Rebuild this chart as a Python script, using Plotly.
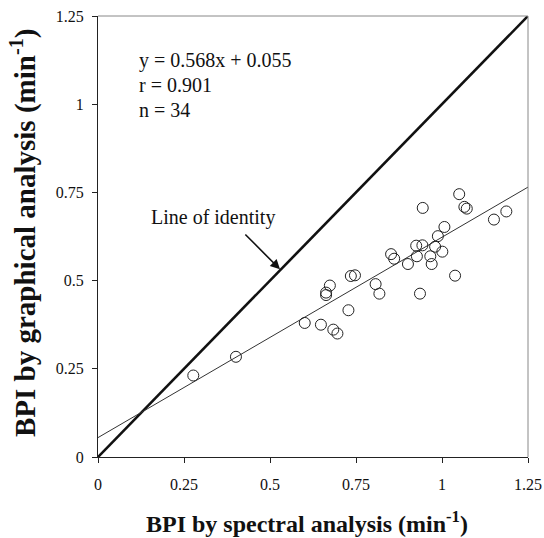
import plotly.graph_objects as go

# Measured data points (BPI by spectral vs graphical analysis)
spectral_bpi = [0.277, 0.401, 0.601, 0.648, 0.663, 0.663, 0.674, 0.684, 0.696, 0.728,
                0.735, 0.747, 0.807, 0.818, 0.852, 0.861, 0.901, 0.925, 0.927, 0.936,
                0.943, 0.944, 0.966, 0.970, 0.980, 0.988, 1.001, 1.007, 1.038, 1.050,
                1.065, 1.072, 1.151, 1.187]
graphical_bpi = [0.231, 0.284, 0.380, 0.375, 0.459, 0.466, 0.486, 0.361, 0.350, 0.416,
                 0.513, 0.515, 0.490, 0.463, 0.575, 0.562, 0.547, 0.599, 0.569, 0.463,
                 0.600, 0.706, 0.569, 0.547, 0.596, 0.626, 0.582, 0.652, 0.514, 0.745,
                 0.709, 0.704, 0.673, 0.696]

# Line of identity and regression line endpoints
identity_x = [0, 1.25]
identity_y = [0, 1.25]
fit_x = [0, 1.25]
fit_y = [0.055, 0.765]

tick_vals = [0, 0.25, 0.5, 0.75, 1, 1.25]
tick_text = ["0", "0.25", "0.5", "0.75", "1", "1.25"]

stats_lines = ["y = 0.568x + 0.055", "r = 0.901", "n = 34"]
x_title = "<b>BPI by spectral analysis (min<sup>-1</sup>)</b>"
y_title = "<b>BPI by graphical analysis (min<sup>-1</sup>)</b>"

SERIF = "Liberation Serif, Times New Roman, serif"

fig = go.Figure()
fig.add_trace(go.Scatter(x=identity_x, y=identity_y, mode="lines",
                         line=dict(color="#111111", width=2.6), hoverinfo="skip"))
fig.add_trace(go.Scatter(x=fit_x, y=fit_y, mode="lines",
                         line=dict(color="#333333", width=1), hoverinfo="skip"))
fig.add_trace(go.Scatter(x=spectral_bpi, y=graphical_bpi, mode="markers",
                         marker=dict(symbol="circle-open", size=11,
                                     line=dict(color="#222222", width=1), color="#222222")))

axis_common = dict(
    range=[0, 1.25], tickvals=tick_vals, ticktext=tick_text, automargin=False,
    showgrid=False, zeroline=False, showline=True, linecolor="#222222", linewidth=1,
    ticks="outside", ticklen=5, tickcolor="#222222", ticklabeloverflow="allow",
    tickfont=dict(family=SERIF, size=16, color="#111111"),
)

fig.update_xaxes(**axis_common, ticklabelstandoff=8)
fig.update_yaxes(**axis_common, ticklabelstandoff=5)

# axis titles
fig.add_annotation(x=0.486, y=-0.147, xref="paper", yref="paper", text=x_title,
                   showarrow=False, xanchor="center", yanchor="middle",
                   font=dict(family=SERIF, size=24, color="#111111"))
fig.add_annotation(x=-0.172, y=0.508, xref="paper", yref="paper", text=y_title,
                   showarrow=False, xanchor="center", yanchor="middle", textangle=-90,
                   font=dict(family=SERIF, size=29, color="#111111"))

# top and right frame lines (lighter)
fig.add_shape(type="line", xref="paper", yref="paper", x0=0, x1=1, y0=1, y1=1,
              line=dict(color="#888888", width=1))
fig.add_shape(type="line", xref="paper", yref="paper", x0=1, x1=1, y0=0, y1=1,
              line=dict(color="#888888", width=1))

stat_y = [1.125, 1.054, 0.983]
for txt, yy in zip(stats_lines, stat_y):
    fig.add_annotation(x=0.113, y=yy, xref="x", yref="y", text=txt, showarrow=False,
                       xanchor="left", yanchor="middle",
                       font=dict(family=SERIF, size=20, color="#111111"))

fig.add_annotation(x=0.334, y=0.68, xref="x", yref="y", text="Line of identity",
                   showarrow=False, xanchor="center", yanchor="middle",
                   font=dict(family=SERIF, size=20, color="#111111"))
fig.add_annotation(x=0.529, y=0.532, ax=0.424, ay=0.635, xref="x", yref="y",
                   axref="x", ayref="y", text="", showarrow=True,
                   arrowhead=2, arrowsize=1.2, arrowwidth=1.6, arrowcolor="#111111")

fig.update_layout(
    width=544, height=538,
    margin=dict(l=98, r=16, t=16, b=81),
    plot_bgcolor="white", paper_bgcolor="white",
    showlegend=False,
)

# remove the default page margin so the figure fills the window exactly
fig.write_html("out.html", config={"displayModeBar": False},
               post_script="document.body.style.margin='0';document.body.style.overflow='hidden';")
